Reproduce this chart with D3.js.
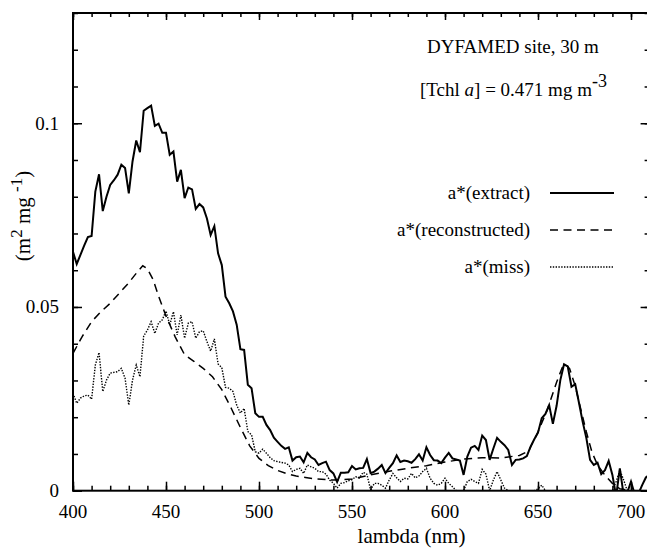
<!DOCTYPE html>
<html><head><meta charset="utf-8"><script src="https://cdn.jsdelivr.net/npm/d3@7"></script></head>
<body style="margin:0">
<svg id="fig" width="647" height="550"></svg>
<script>
const wavelengths = [
  400,402,404,406,408,410,412,414,416,418,
  420,422,424,426,428,430,432,434,436,438,
  440,442,444,446,448,450,452,454,456,458,
  460,462,464,466,468,470,472,474,476,478,
  480,482,484,486,488,490,492,494,496,498,
  500,502,504,506,508,510,512,514,516,518,
  520,522,524,526,528,530,532,534,536,538,
  540,542,544,546,548,550,552,554,556,558,
  560,562,564,566,568,570,572,574,576,578,
  580,582,584,586,588,590,592,594,596,598,
  600,602,604,606,608,610,612,614,616,618,
  620,622,624,626,628,630,632,634,636,638,
  640,642,644,646,648,650,652,654,656,658,
  660,662,664,666,668,670,672,674,676,678,
  680,682,684,686,688,690,692,694,696,698,
  700,702,704,706,708,710
];
const extractValues = [
  0.0650,0.0617,0.0642,0.0667,0.0690,0.0693,0.0814,0.0861,0.0761,0.0800,
  0.0832,0.0845,0.0860,0.0887,0.0878,0.0809,0.0896,0.0953,0.0921,0.1034,
  0.1041,0.1048,0.0993,0.0999,0.0974,0.0974,0.0914,0.0923,0.0841,0.0873,
  0.0796,0.0825,0.0820,0.0767,0.0780,0.0771,0.0741,0.0696,0.0720,0.0646,
  0.0614,0.0528,0.0510,0.0488,0.0452,0.0385,0.0383,0.0288,0.0279,0.0211,
  0.0201,0.0201,0.0179,0.0165,0.0144,0.0133,0.0122,0.0114,0.0118,0.0082,
  0.0091,0.0093,0.0077,0.0103,0.0091,0.0085,0.0070,0.0075,0.0079,0.0056,
  0.0047,0.0024,0.0049,0.0049,0.0050,0.0067,0.0058,0.0061,0.0062,0.0086,
  0.0048,0.0052,0.0060,0.0070,0.0048,0.0062,0.0075,0.0096,0.0078,0.0082,
  0.0080,0.0076,0.0086,0.0099,0.0082,0.0118,0.0097,0.0083,0.0082,0.0075,
  0.0090,0.0103,0.0088,0.0085,0.0082,0.0043,0.0093,0.0117,0.0122,0.0111,
  0.0150,0.0138,0.0084,0.0115,0.0144,0.0133,0.0124,0.0111,0.0070,0.0084,
  0.0085,0.0088,0.0094,0.0120,0.0140,0.0158,0.0197,0.0209,0.0233,0.0182,
  0.0231,0.0301,0.0344,0.0338,0.0283,0.0290,0.0240,0.0188,0.0143,0.0084,
  0.0070,0.0076,0.0045,0.0056,0.0081,0.0043,-0.0015,0.0061,-0.0010,-0.0005,
  0.0025,-0.0010,-0.0008,0.0015,0.0036,0.0045
];
const missValues = [
  0.0265,0.0238,0.0252,0.0258,0.0260,0.0249,0.0342,0.0376,0.0270,0.0301,
  0.0320,0.0322,0.0324,0.0333,0.0306,0.0233,0.0301,0.0342,0.0310,0.0421,
  0.0437,0.0460,0.0428,0.0456,0.0465,0.0489,0.0451,0.0487,0.0424,0.0478,
  0.0415,0.0456,0.0460,0.0415,0.0433,0.0435,0.0406,0.0380,0.0413,0.0345,
  0.0335,0.0281,0.0279,0.0270,0.0233,0.0211,0.0224,0.0161,0.0152,0.0106,
  0.0102,0.0113,0.0102,0.0090,0.0082,0.0079,0.0077,0.0075,0.0070,0.0052,
  0.0058,0.0061,0.0047,0.0070,0.0065,0.0061,0.0052,0.0052,0.0045,0.0029,
  0.0020,0.0007,0.0020,0.0022,0.0027,0.0030,0.0038,0.0035,0.0050,0.0045,
  0.0002,0.0020,0.0020,0.0015,0.0007,0.0029,0.0047,0.0035,0.0025,0.0034,
  0.0032,0.0047,0.0035,0.0040,0.0052,0.0061,0.0034,0.0020,0.0015,0.0020,
  0.0034,0.0020,0.0011,0,0,0,0.0025,0.0031,0.0025,0.0020,
  0.0058,0.0045,0,0.0029,0.0052,0.0029,0.0007,0,0,0,
  0,0,0,0,0,0.0005,0.0015,0,0,0,
  0,0,0,0,0,0,0,0,0,0,
  0,0,0,0,0,0,0.0025,0.0056,0.0030,0,
  0,0,0,0,0,0
];
const reconLambda = [400,405,410,415,420,425,430,435,437.5,440,443,446,450,455,460,465,470,475,480,485,490,495,500,505,510,515,520,525,530,540,550,560,570,580,590,600,610,620,630,640,645,650,655,660,663,665,667,670,673,676,679,682,686,690,694,700,710];
const reconValues = [0.0374,0.0420,0.0460,0.0487,0.0510,0.0538,0.0566,0.0598,0.0612,0.0604,0.0575,0.0530,0.0475,0.0418,0.0370,0.0352,0.0333,0.0310,0.0275,0.0225,0.0172,0.0122,0.0088,0.0068,0.0055,0.0046,0.0040,0.0036,0.0032,0.0029,0.0032,0.0043,0.0053,0.0061,0.0068,0.0078,0.0086,0.0090,0.0089,0.0096,0.0108,0.0160,0.0220,0.0295,0.0335,0.0343,0.0332,0.0285,0.0222,0.0160,0.0105,0.0070,0.0042,0.0020,0.0005,0.0000,0.0000];

const xMajorTicks = [400,450,500,550,600,650,700];
const xMinorTicks = [400,410,420,430,440,450,460,470,480,490,500,510,520,530,540,550,560,570,580,590,600,610,620,630,640,650,660,670,680,690,700,710];
const yMajorTicks = [0,0.05,0.1];
const yTickLabels = ["0","0.05","0.1"];
const yMinorTicks = [0,0.01,0.02,0.03,0.04,0.05,0.06,0.07,0.08,0.09,0.1,0.11,0.12,0.13];
const legendLabels = ["a*(extract)","a*(reconstructed)","a*(miss)"];

const L = 73, R = 649.6, T = 13, B = 490.7;
const svg = d3.select("#fig");
const x = d3.scaleLinear().domain([400, 710]).range([L, R]);
const y = d3.scaleLinear().domain([0, 0.13]).range([B, T]);

svg.append("defs").append("clipPath").attr("id", "clip")
  .append("rect").attr("x", L).attr("y", T).attr("width", R - L).attr("height", B - T);

const styles = [
  {w: 2, dash: null},
  {w: 1.5, dash: "8,5.5"},
  {w: 1.4, dash: "1.4,1.4"}
];
const line = d3.line().x(d => x(d[0])).y(d => y(d[1]));
const plot = svg.append("g").attr("clip-path", "url(#clip)");
const series = [
  wavelengths.map((l, i) => [l, extractValues[i]]),
  reconLambda.map((l, i) => [l, reconValues[i]]),
  wavelengths.map((l, i) => [l, missValues[i]])
];
[2, 1, 0].forEach(k => {
  plot.append("path").datum(series[k]).attr("d", line).attr("fill", "none")
    .attr("stroke", "#000").attr("stroke-width", styles[k].w)
    .attr("stroke-dasharray", styles[k].dash);
});

function styleAxis(g) {
  g.attr("font-family", null).attr("font-size", null);
  g.selectAll("path.domain").remove();
  g.selectAll(".tick line").attr("stroke", "#000").attr("stroke-width", 1.5);
  g.selectAll(".tick text").remove();
}
svg.append("g").attr("transform", `translate(0,${B})`)
  .call(d3.axisBottom(x).tickValues(xMinorTicks).tickSize(-5).tickSizeOuter(0)).call(styleAxis);
svg.append("g").attr("transform", `translate(0,${B})`)
  .call(d3.axisBottom(x).tickValues(xMajorTicks).tickSize(-9).tickSizeOuter(0)).call(styleAxis);
svg.append("g").attr("transform", `translate(0,${T})`)
  .call(d3.axisTop(x).tickValues(xMinorTicks).tickSize(-4).tickSizeOuter(0)).call(styleAxis);
svg.append("g").attr("transform", `translate(0,${T})`)
  .call(d3.axisTop(x).tickValues(xMajorTicks).tickSize(-7).tickSizeOuter(0)).call(styleAxis);
svg.append("g").attr("transform", `translate(${L},0)`)
  .call(d3.axisLeft(y).tickValues(yMinorTicks).tickSize(-5).tickSizeOuter(0)).call(styleAxis);
svg.append("g").attr("transform", `translate(${L},0)`)
  .call(d3.axisLeft(y).tickValues(yMajorTicks).tickSize(-9).tickSizeOuter(0)).call(styleAxis);
svg.append("g").attr("transform", `translate(${R},0)`)
  .call(d3.axisRight(y).tickValues(yMinorTicks).tickSize(-5).tickSizeOuter(0)).call(styleAxis);
svg.append("g").attr("transform", `translate(${R},0)`)
  .call(d3.axisRight(y).tickValues(yMajorTicks).tickSize(-9).tickSizeOuter(0)).call(styleAxis);

const F = "Liberation Serif";
xMajorTicks.forEach(v => {
  svg.append("text").attr("x", x(v)).attr("y", 518).attr("text-anchor", "middle")
    .attr("font-family", F).attr("font-size", 19).text(String(v));
});
yMajorTicks.forEach((v, i) => {
  svg.append("text").attr("x", 59).attr("y", y(v) + 6.5).attr("text-anchor", "end")
    .attr("font-family", F).attr("font-size", 19).text(yTickLabels[i]);
});
svg.append("rect").attr("x", L).attr("y", T).attr("width", R - L).attr("height", B - T)
  .attr("fill", "none").attr("stroke", "#000").attr("stroke-width", 2);

svg.append("text").attr("x", 411.5).attr("y", 543).attr("text-anchor", "middle")
  .attr("font-family", F).attr("font-size", 21).text("lambda (nm)");
const yl = svg.append("text").attr("transform", "translate(30,216) rotate(-90)")
  .attr("text-anchor", "middle").attr("font-family", F).attr("font-size", 21);
yl.append("tspan").text("(m");
yl.append("tspan").attr("dy", -8).attr("font-size", 17).text("2");
yl.append("tspan").attr("dy", 8).text(" mg ");
yl.append("tspan").attr("dy", -8).attr("font-size", 17).text("-1");
yl.append("tspan").attr("dy", 8).text(")");

svg.append("text").attr("x", 427).attr("y", 53).attr("font-family", F).attr("font-size", 19)
  .text("DYFAMED site, 30 m");
const t2 = svg.append("text").attr("x", 420).attr("y", 96).attr("font-family", F).attr("font-size", 19);
t2.append("tspan").text("[Tchl ");
t2.append("tspan").attr("font-style", "italic").text("a");
t2.append("tspan").text("] = 0.471 mg m");
t2.append("tspan").attr("dy", -9).attr("font-size", 18).text("-3");

const legendY = [193, 230, 267];
legendLabels.forEach((lab, k) => {
  svg.append("text").attr("x", 530).attr("y", legendY[k] + 6).attr("text-anchor", "end")
    .attr("font-family", F).attr("font-size", 19).text(lab);
  svg.append("line").attr("x1", 550).attr("x2", 614).attr("y1", legendY[k]).attr("y2", legendY[k])
    .attr("stroke", "#000").attr("stroke-width", styles[k].w)
    .attr("stroke-dasharray", styles[k].dash);
});
</script>
</body>
</html>
